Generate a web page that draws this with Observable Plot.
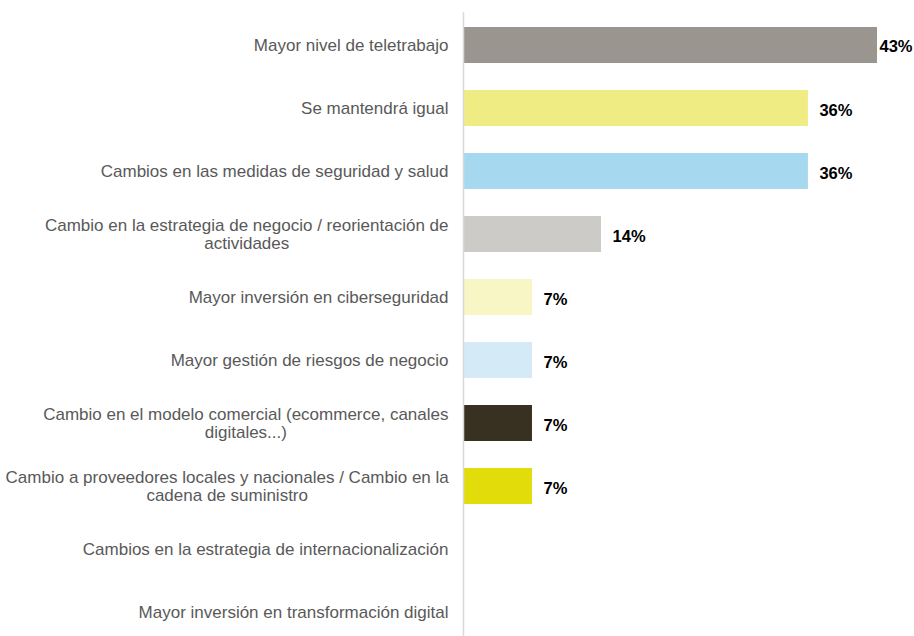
<!DOCTYPE html>
<html>
<head>
<meta charset="utf-8">
<script src="https://cdn.jsdelivr.net/npm/d3@7"></script>
<script src="https://cdn.jsdelivr.net/npm/@observablehq/plot@0.6"></script>
<style>
  html, body { margin: 0; padding: 0; background: #fff; overflow: hidden; }
  #chart { width: 914px; height: 636px; overflow: hidden; }
</style>
</head>
<body>
<div id="chart"></div>
<script>
const categories = [
  "Mayor nivel de teletrabajo",
  "Se mantendrá igual",
  "Cambios en las medidas de seguridad y salud",
  "Cambio en la estrategia de negocio / reorientación de\nactividades",
  "Mayor inversión en ciberseguridad",
  "Mayor gestión de riesgos de negocio",
  "Cambio en el modelo comercial (ecommerce, canales\ndigitales...)",
  "Cambio a proveedores locales y nacionales / Cambio en la\ncadena de suministro",
  "Cambios en la estrategia de internacionalización",
  "Mayor inversión en transformación digital"
];
const values = [42.86, 35.71, 35.71, 14.29, 7.14, 7.14, 7.14, 7.14, 0, 0];
const valueLabels = ["43%", "36%", "36%", "14%", "7%", "7%", "7%", "7%", "", ""];
const colors = ["#9a958e", "#f0ec84", "#a6d9f0", "#cccbc7", "#f7f6c4", "#d4ebf7", "#383121", "#e2dd0a", "#cccccc", "#cccccc"];

const data = categories.map((c, i) => ({cat: c, v: values[i], lab: valueLabels[i], col: colors[i]}));

const chart = Plot.plot({
  width: 914,
  height: 636,
  marginLeft: 463,
  marginRight: 37,
  marginTop: 26,
  marginBottom: 6,
  style: {fontFamily: "'Liberation Sans', Arial, sans-serif", background: "#fff", overflow: "hidden"},
  x: {domain: [0, 42.86], axis: null},
  y: {domain: categories, paddingInner: 0.43, paddingOuter: 0, label: null, axis: null},
  marks: [
    Plot.barX(data.filter(d => d.v > 0), {y: "cat", x: "v", fill: "col"}),
    Plot.ruleX([0], {stroke: "#d9d9d9", strokeWidth: 1.5, insetTop: -14, insetBottom: -6}),
    Plot.text(data.filter(d => d.v > 0 && d.v < 40), {y: "cat", x: "v", text: "lab", textAnchor: "start", dx: 11, dy: 2, fontWeight: "bold", fill: "#000", fontSize: 16.5}),
    Plot.text(data.filter(d => d.v >= 40), {y: "cat", x: "v", text: "lab", textAnchor: "start", dx: 2, dy: 1, fontWeight: "bold", fill: "#000", fontSize: 16.5}),
    Plot.text(data, {y: "cat", text: "cat", frameAnchor: "left", textAnchor: "end", dx: -15, lineHeight: 1.07, fill: "#595959", fontSize: 17})
  ]
});
document.getElementById("chart").appendChild(chart);

// center multi-line labels within their right-aligned block
chart.querySelectorAll("text").forEach(t => {
  const spans = t.querySelectorAll("tspan");
  if (spans.length > 1) {
    const bb = t.getBBox();
    t.setAttribute("text-anchor", "middle");
    spans.forEach(s => s.setAttribute("x", bb.x + bb.width / 2));
  }
});
</script>
</body>
</html>
